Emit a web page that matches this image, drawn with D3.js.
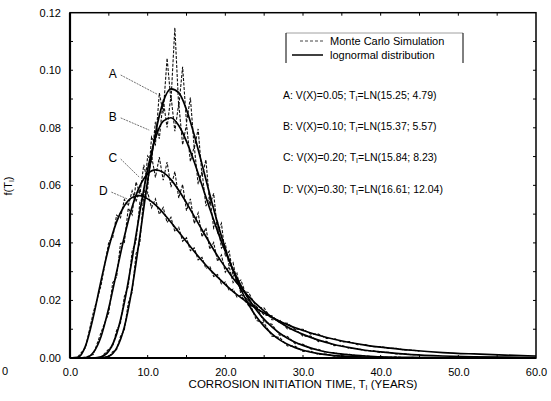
<!DOCTYPE html>
<html><head><meta charset="utf-8">
<script src="https://cdn.jsdelivr.net/npm/d3@7"></script>
<style>
body{margin:0;background:#fff;}
svg{display:block;}
text{font-family:"Liberation Sans",Arial,sans-serif;fill:#000;}
</style></head>
<body>
<svg id="c" width="551" height="401"></svg>
<script>
// ---- data ----
const xTicks = [0,10,20,30,40,50,60];
const yTicks = [0,0.02,0.04,0.06,0.08,0.10,0.12];
const curveX = [0,1,2,3,4,5,6,7,8,9,10,11,12,13,14,15,16,17,18,19,20,21,22,23,24,25,26,27,28,29,30,32,34,36,38,40,44,48,52,56,60];
const curveA = [0,0,0,0,0.00005,0.0006,0.0034,0.0108,0.0243,0.0424,0.0616,0.0780,0.0890,0.0935,0.0922,0.0863,0.0775,0.0673,0.0568,0.0469,0.0380,0.0303,0.0238,0.0186,0.0143,0.0110,0.0084,0.0063,0.0048,0.0036,0.0027,0.0015,0.0008,0.0005,0.0003,0.0001,0,0,0,0,0];
const curveB = [0,0,0,0,0.0004,0.0024,0.0083,0.0193,0.0344,0.0509,0.0656,0.0764,0.0823,0.0835,0.0808,0.0753,0.0681,0.0600,0.0519,0.0441,0.0370,0.0307,0.0252,0.0206,0.0167,0.0134,0.0108,0.0086,0.0069,0.0055,0.0044,0.0027,0.0017,0.0011,0.0007,0.0004,0.0002,0.0001,0,0,0];
const curveC = [0,0,0.0001,0.0019,0.0075,0.0175,0.0299,0.0422,0.0525,0.0598,0.0640,0.0654,0.0645,0.0620,0.0583,0.0539,0.0492,0.0445,0.0399,0.0355,0.0315,0.0277,0.0244,0.0214,0.0187,0.0163,0.0142,0.0124,0.0108,0.0094,0.0082,0.0062,0.0047,0.0036,0.0027,0.0021,0.0012,0.0007,0.0004,0.0003,0.0002];
const curveD = [0,0.0002,0.0042,0.0143,0.0269,0.0385,0.0473,0.0529,0.0558,0.0564,0.0553,0.0532,0.0504,0.0472,0.0438,0.0404,0.0370,0.0338,0.0308,0.0281,0.0255,0.0231,0.0210,0.0190,0.0172,0.0156,0.0141,0.0128,0.0116,0.0105,0.0096,0.0079,0.0065,0.0054,0.0045,0.0038,0.0027,0.0019,0.0014,0.0010,0.0007];

const mcX = [1,2,3,4,5,5.5,6,6.5,7,7.5,8,8.5,9,9.5,10,10.5,11,11.5,12,12.5,13,13.5,14,14.5,15,15.5,16,16.5,17,17.5,18,18.5,19,19.5,20,20.5,21,21.5,22,23,24,25,26,27,28,29,30,31,32,33,34,35,36,37,38,39,40,41,42,43,44,45];
const mcA = [0,0,0,0.0002,0.0004,0.0022,0.0029,0.0075,0.0098,0.0191,0.0228,0.0362,0.0401,0.0568,0.0589,0.0768,0.0742,0.0921,0.0851,0.1042,0.0893,0.1148,0.0871,0.1012,0.0818,0.0905,0.0728,0.0796,0.0631,0.0689,0.0531,0.0572,0.0437,0.0468,0.0352,0.0371,0.0284,0.0295,0.0221,0.0201,0.0131,0.0121,0.0076,0.0071,0.0042,0.0041,0.0023,0.0024,0.0012,0.0014,0.0006,0.0008,0.0003,0.0005,0.0002,0.0003,0.0001,0.0002,0,0.0001,0,0];
const mcB = [0,0,0.0001,0.0002,0.0031,0.0041,0.0096,0.0121,0.0214,0.0248,0.0371,0.0405,0.0542,0.0561,0.0702,0.0683,0.0821,0.0762,0.0897,0.0801,0.0912,0.0788,0.0884,0.0741,0.0812,0.0683,0.0735,0.0604,0.0648,0.0528,0.0561,0.0451,0.0474,0.0382,0.0398,0.0317,0.0331,0.0262,0.0271,0.0194,0.0179,0.0125,0.0117,0.0079,0.0075,0.0050,0.0048,0.0031,0.0030,0.0019,0.0019,0.0012,0.0013,0.0007,0.0008,0.0004,0.0005,0.0002,0.0004,0.0001,0.0002,0.0001];
const mcC = [0,0.0003,0.0012,0.0089,0.0158,0.0262,0.0281,0.0398,0.0401,0.0521,0.0498,0.0612,0.0571,0.0671,0.0612,0.0702,0.0628,0.0698,0.0618,0.0681,0.0594,0.0648,0.0556,0.0603,0.0512,0.0553,0.0467,0.0504,0.0421,0.0452,0.0378,0.0401,0.0336,0.0358,0.0298,0.0317,0.0262,0.0278,0.0231,0.0228,0.0176,0.0174,0.0133,0.0132,0.0101,0.0100,0.0076,0.0076,0.0057,0.0058,0.0043,0.0044,0.0033,0.0033,0.0025,0.0026,0.0019,0.0020,0.0014,0.0015,0.0011,0.0012];
const mcD = [0.0004,0.0036,0.0158,0.0252,0.0404,0.0418,0.0496,0.0487,0.0551,0.0529,0.0581,0.0543,0.0588,0.0541,0.0576,0.0522,0.0553,0.0499,0.0523,0.0471,0.0489,0.0439,0.0454,0.0406,0.0418,0.0373,0.0383,0.0341,0.0350,0.0311,0.0319,0.0283,0.0290,0.0257,0.0264,0.0234,0.0239,0.0212,0.0218,0.0182,0.0179,0.0149,0.0147,0.0122,0.0121,0.0100,0.0100,0.0083,0.0083,0.0068,0.0068,0.0056,0.0057,0.0046,0.0047,0.0039,0.0040,0.0033,0.0034,0.0028,0.0028,0.0024];

const caseLetters = ["A","B","C","D"];
const caseVX = ["0.05","0.10","0.20","0.30"];
const caseLN = ["15.25; 4.79","15.37; 5.57","15.84; 8.23","16.61; 12.04"];
const letterX = [5.5,5.5,5.5,4.3];        // data-space label anchors
const letterY = [0.0973,0.0824,0.0681,0.0566];
const leaderEnd = [[11.2,0.0917],[10.2,0.0792],[8.9,0.0629],[7.7,0.0549]];

// ---- layout ----
const svg = d3.select("#c");
const L=70, R=536, T=12.7, B=358;
const x = d3.scaleLinear().domain([0,60]).range([L,R]);
const y = d3.scaleLinear().domain([0,0.12]).range([B,T]);

const line = d3.line().x(d=>x(d[0])).y(d=>y(d[1]));
const smooth = d3.line().x(d=>x(d[0])).y(d=>y(d[1])).curve(d3.curveMonotoneX);

// Monte Carlo (dashed)
[mcA,mcB,mcC,mcD].forEach(arr=>{
  svg.append("path").datum(mcX.map((v,i)=>[v,arr[i]]))
    .attr("d",line).attr("fill","none").attr("stroke","#111")
    .attr("stroke-width",1.1).attr("stroke-dasharray","3,1.5");
});
// lognormal fits
[curveA,curveB,curveC,curveD].forEach(arr=>{
  svg.append("path").datum(curveX.map((v,i)=>[v,arr[i]]))
    .attr("d",smooth).attr("fill","none").attr("stroke","#000")
    .attr("stroke-width",1.7);
});

// frame
svg.append("rect").attr("x",L).attr("y",T).attr("width",R-L).attr("height",B-T)
  .attr("fill","none").attr("stroke","#000").attr("stroke-width",1.5);
svg.append("line").attr("x1",L).attr("x2",L).attr("y1",T).attr("y2",B).attr("stroke","#000").attr("stroke-width",2.2);
svg.append("line").attr("x1",L).attr("x2",R).attr("y1",B).attr("y2",B).attr("stroke","#000").attr("stroke-width",2.2);

// axes
const fs = "11px";
const xb = svg.append("g").attr("transform",`translate(0,${B})`)
  .call(d3.axisBottom(x).tickValues(xTicks).tickSize(0).tickPadding(10).tickFormat(d3.format(".1f")));
xb.select(".domain").remove();
xb.selectAll("text").attr("font-size",fs).attr("font-family","Liberation Sans, Arial, sans-serif");
const yl = svg.append("g").attr("transform",`translate(${L},0)`)
  .call(d3.axisLeft(y).tickValues(yTicks).tickSize(0).tickPadding(9).tickFormat(d3.format(".2f")));
yl.select(".domain").remove();
yl.selectAll("text").attr("font-size",fs).attr("font-family","Liberation Sans, Arial, sans-serif");

// inner ticks
const xMinor = d3.range(5,60,5), yMinor = d3.range(1,12).map(v=>v/100);
const tk = svg.append("g").attr("stroke","#000").attr("stroke-width",1);
xMinor.forEach(v=>{
  tk.append("line").attr("x1",x(v)).attr("x2",x(v)).attr("y1",B).attr("y2",B-3);
  tk.append("line").attr("x1",x(v)).attr("x2",x(v)).attr("y1",T).attr("y2",T+3);
});
yMinor.forEach(v=>{
  tk.append("line").attr("x1",L).attr("x2",L+3).attr("y1",y(v)).attr("y2",y(v));
  tk.append("line").attr("x1",R).attr("x2",R-3).attr("y1",y(v)).attr("y2",y(v));
});

// axis titles
const xt = svg.append("text").attr("x",303).attr("y",388).attr("text-anchor","middle").attr("font-size","11.5px");
xt.append("tspan").text("CORROSION INITIATION TIME, T");
xt.append("tspan").attr("font-size","7px").attr("dy",2).text("I");
xt.append("tspan").attr("dy",-2).text(" (YEARS)");
const yt = svg.append("text").attr("transform","translate(12,186) rotate(-90)").attr("text-anchor","middle").attr("font-size","11px");
yt.append("tspan").text("f(T");
yt.append("tspan").attr("font-size","7px").attr("dy",2).text("I");
yt.append("tspan").attr("dy",-2).text(")");
svg.append("text").attr("x",8).attr("y",375).attr("text-anchor","end").attr("font-size","11px").text("0");

// legend
const lg = svg.append("g");
lg.append("line").attr("x1",286).attr("x2",463).attr("y1",33).attr("y2",33).attr("stroke","#888").attr("stroke-width",0.8);
lg.append("line").attr("x1",286).attr("x2",286).attr("y1",33).attr("y2",63).attr("stroke","#000").attr("stroke-width",1);
lg.append("line").attr("x1",463).attr("x2",463).attr("y1",33).attr("y2",63).attr("stroke","#000").attr("stroke-width",1);
lg.append("line").attr("x1",300).attr("x2",323).attr("y1",41).attr("y2",41).attr("stroke","#444").attr("stroke-width",1).attr("stroke-dasharray","3,2");
lg.append("line").attr("x1",292).attr("x2",323).attr("y1",55).attr("y2",55).attr("stroke","#000").attr("stroke-width",1.5);
lg.append("text").attr("x",330).attr("y",45).attr("font-size","11px").text("Monte Carlo Simulation");
lg.append("text").attr("x",330).attr("y",59).attr("font-size","11px").text("lognormal distribution");

// case annotations
const annY = [99,130,161,193];
caseLetters.forEach((c,i)=>{
  const t = svg.append("text").attr("x",283).attr("y",annY[i]).attr("font-size","10.5px");
  t.append("tspan").text(`${c}: V(X)=${caseVX[i]}; T`);
  t.append("tspan").attr("font-size","7px").attr("dy",2).text("I");
  t.append("tspan").attr("dy",-2).text(`=LN(${caseLN[i]})`);
  svg.append("text").attr("x",x(letterX[i])).attr("y",y(letterY[i])).attr("font-size","12px")
    .attr("text-anchor","middle").text(c);
  svg.append("line").attr("x1",x(letterX[i])+8).attr("y1",y(letterY[i])-3)
    .attr("x2",x(leaderEnd[i][0])).attr("y2",y(leaderEnd[i][1]))
    .attr("stroke","#333").attr("stroke-width",0.7).attr("stroke-dasharray","2,1");
});
</script>
</body></html>
